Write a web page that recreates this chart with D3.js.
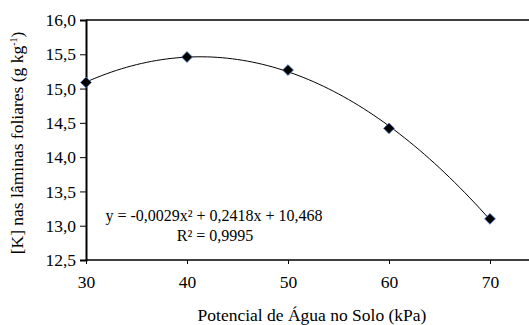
<!DOCTYPE html>
<html><head><meta charset="utf-8">
<script src="https://cdn.jsdelivr.net/npm/d3@7"></script>
<style>body{margin:0;background:#fff}svg{display:block}svg text{font-family:"Liberation Serif","Times New Roman",Times,"DejaVu Serif",serif !important;fill:#000}</style>
</head><body><svg id="c" width="529" height="325"></svg>
<script>
const xValues = [30, 40, 50, 60, 70];
const yValues = [15.09, 15.46, 15.27, 14.42, 13.10];
const yTicks = [12.5, 13.0, 13.5, 14.0, 14.5, 15.0, 15.5, 16.0];
const xTicks = [30, 40, 50, 60, 70];
const equationText = "y = -0,0029x² + 0,2418x + 10,468";
const r2Text = "R² = 0,9995";
const yTitle = "[K] nas lâminas foliares (g kg";
const xTitle = "Potencial de Água no Solo (kPa)";

const svg = d3.select("#c");
const L = 86, T = 20, B = 260;
const x = d3.scaleLinear().domain([30, 70]).range([L, 490]);
const y = d3.scaleLinear().domain([12.5, 16]).range([B, T]);
const fmt = v => d3.format(".1f")(v).replace(".", ",");

svg.append("path").attr("d", `M${L},${B}H529M${L},${T}H529`).attr("stroke", "#000").attr("stroke-width", 1.5).attr("fill","none");

const ya = svg.append("g").attr("transform", `translate(${L},0)`)
  .call(d3.axisLeft(y).tickValues(yTicks).tickFormat(fmt).tickSizeOuter(0).tickSize(6).tickPadding(4));
ya.attr("font-family", null);
ya.select(".domain").attr("stroke-width", 2);
ya.selectAll("text").style("font-size", "17.5px");

const xa = svg.append("g").attr("transform", `translate(0,${B})`)
  .call(d3.axisBottom(x).tickValues(xTicks).tickFormat(d3.format("d")).tickSizeOuter(0).tickSize(4).tickPadding(12));
xa.attr("font-family", null);
xa.select(".domain").remove();
xa.selectAll("text").style("font-size", "17.5px");

function fit(xs, ys) {
  let S = [0,0,0,0,0], Sy=[0,0,0];
  xs.forEach((xi,i)=>{ for(let k=0;k<5;k++) S[k]+=Math.pow(xi,k); for(let k=0;k<3;k++) Sy[k]+=ys[i]*Math.pow(xi,k); });
  const M = [[S[0],S[1],S[2],Sy[0]],[S[1],S[2],S[3],Sy[1]],[S[2],S[3],S[4],Sy[2]]];
  for (let i=0;i<3;i++){ for(let j=i+1;j<3;j++){ const f=M[j][i]/M[i][i]; for(let k=i;k<4;k++) M[j][k]-=f*M[i][k]; } }
  const c=[0,0,0];
  for (let i=2;i>=0;i--){ let s=M[i][3]; for(let k=i+1;k<3;k++) s-=M[i][k]*c[k]; c[i]=s/M[i][i]; }
  return c;
}
const c = fit(xValues, yValues);
const curvePts = d3.range(30, 70.01, 0.5).map(v => [v, c[0] + c[1]*v + c[2]*v*v]);
svg.append("path").datum(curvePts)
  .attr("d", d3.line().x(d => x(d[0])).y(d => y(d[1])))
  .attr("fill", "none").attr("stroke", "#000").attr("stroke-width", 1);

svg.selectAll(".pt").data(xValues).enter().append("path")
  .attr("d", d3.symbol(d3.symbolDiamond2, 75)())
  .attr("transform", (d,i) => `translate(${x(d)},${y(yValues[i])})`)
  .attr("fill", "#000").attr("stroke", "#4a7cc7").attr("stroke-width", 0.8);

svg.append("text").attr("x", 214).attr("y", 221).attr("text-anchor", "middle").style("font-size", "16px").text(equationText);
svg.append("text").attr("x", 215).attr("y", 241).attr("text-anchor", "middle").style("font-size", "16px").text(r2Text);

const yt = svg.append("text").attr("transform", "translate(23,143) rotate(-90)").attr("text-anchor", "middle").style("font-size", "17.5px");
yt.append("tspan").text(yTitle);
yt.append("tspan").attr("dy", -6).style("font-size", "10px").text("-1");
yt.append("tspan").attr("dy", 6).text(")");

svg.append("text").attr("x", 312).attr("y", 321).attr("text-anchor", "middle").style("font-size", "17.5px").text(xTitle);
</script></body></html>
